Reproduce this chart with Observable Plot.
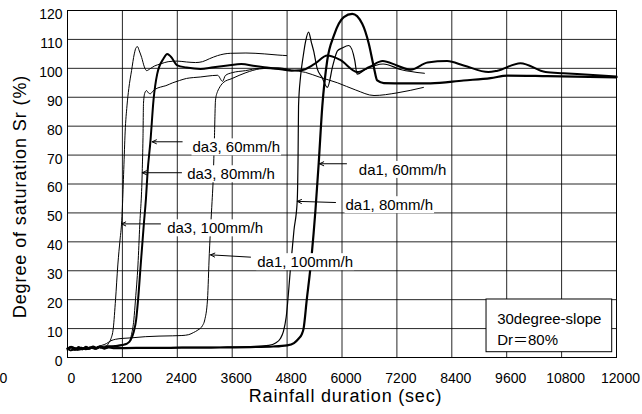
<!DOCTYPE html>
<html>
<head>
<meta charset="utf-8">
<script src="https://cdn.jsdelivr.net/npm/d3@7"></script>
<script src="https://cdn.jsdelivr.net/npm/@observablehq/plot@0.6"></script>
<style>
  html, body { margin: 0; padding: 0; background: #fff; }
  #chart svg { display: block; }
</style>
</head>
<body>
<div id="chart"></div>
<script>
// Degree of saturation Sr (%) against rainfall duration (s), six tests
const xTicks = [0, 1200, 2400, 3600, 4800, 6000, 7200, 8400, 9600, 10800, 12000];
const yTicks = [0, 10, 20, 30, 40, 50, 60, 70, 80, 90, 100, 110, 120];

// [time (s), Sr (%)]
const da3_100 = [[0,2.6],[60,3.4],[120,2.4],[180,3.3],[240,2.7],[300,3.5],[360,2.9],[420,3.6],[480,3.0],[540,3.7],[600,3.1],[660,3.8],[720,3.3],[780,3.9],[850,4.0],[900,5.0],[950,6.5],[1000,10],[1050,20],[1100,32],[1150,41],[1180,46],[1200,52],[1230,65],[1260,78],[1300,87],[1340,93],[1400,99.2],[1460,105],[1500,107.2],[1530,107.5],[1570,106],[1620,103.8],[1680,100.5],[1730,99.2],[1800,99.8],[1900,100.8],[2030,101.5],[2200,102.3],[2400,102.5],[2600,102.2],[2800,102],[2950,102.3],[3100,103.3],[3280,104.4],[3560,105.2],[3900,105.3],[4300,105],[4600,104.6],[4790,104.4]];
const da3_80 = [[0,3.4],[70,2.5],[140,3.6],[210,2.6],[280,3.5],[350,2.8],[420,3.7],[490,3.0],[560,3.8],[630,3.2],[700,3.9],[780,3.4],[860,4.0],[950,3.8],[1050,4.1],[1200,4.4],[1320,5],[1400,8],[1450,13],[1486,20],[1540,32],[1580,46],[1633,64],[1650,76],[1661,88],[1690,91.5],[1727,92.3],[1770,91.5],[1810,91.2],[1860,92],[1920,92.8],[2030,93.5],[2150,94],[2300,95],[2450,95.8],[2600,96.5],[2750,96.8],[2900,97],[3050,97.3],[3280,97.6],[3390,95.5],[3450,97.5],[3600,98.5],[3890,99.2],[4200,100],[4500,99.8],[4790,99.6]];
const da3_60 = [[0,3.0],[80,3.7],[160,2.6],[240,3.6],[320,2.8],[400,3.7],[480,3.0],[560,3.8],[640,3.2],[720,3.8],[800,3.5],[900,3.9],[1000,3.9],[1200,4.3],[1300,4.8],[1380,6],[1450,9],[1500,13],[1543,20],[1600,32],[1668,46],[1715,55],[1750,64],[1814,75],[1880,89],[1960,98],[2100,103.4],[2180,105],[2260,104],[2400,101],[2600,100.3],[2907,99.8],[3190,100.4],[3500,101],[3800,101.5],[4100,100.8],[4400,100.2],[4700,99.6],[4900,99.2],[5100,99.3],[5400,101.5],[5680,104.4],[5950,103],[6340,98.7],[6600,100.5],[6890,102.5],[7200,101],[7500,99.5],[7870,102],[8300,102.5],[8660,101],[9200,98.7],[9400,99.2],[9900,101.8],[10450,98.7],[10840,98.3],[11400,97.8],[12000,97.2]];
const da1_100 = [[0,2.8],[75,2.3],[150,3.4],[225,2.5],[300,3.0],[375,3.5],[450,2.9],[525,3.8],[600,3.5],[675,3.9],[750,4.2],[850,4.8],[950,5.8],[1050,6.3],[1200,6.6],[1400,6.8],[1700,7.2],[2000,7.4],[2300,7.5],[2500,7.6],[2650,7.9],[2750,8.6],[2850,9.5],[2950,11],[3000,13],[3060,20],[3100,36],[3160,54],[3180,60],[3210,75],[3235,89],[3280,92],[3310,93],[3400,95],[3600,96.5],[3900,98.5],[4200,99.8],[4600,100.2],[4900,99.4],[5200,98.6],[5500,97],[5900,95],[6300,92.5],[6700,90.6],[7200,91.5],[7780,93.4]];
const da1_80 = [[0,3.2],[90,2.4],[180,3.3],[270,2.6],[360,3.4],[450,2.8],[540,3.5],[630,3.0],[720,3.6],[810,3.1],[900,3.6],[1000,3.3],[1500,3.4],[2000,3.4],[2500,3.5],[3000,3.5],[3500,3.6],[4000,3.8],[4400,4.2],[4550,5.0],[4650,6.5],[4720,9],[4780,14],[4875,31],[4950,44],[5021,54],[5040,70],[5050,87],[5093,97],[5150,104],[5200,109],[5270,112.5],[5330,109],[5380,106],[5460,99.8],[5560,97],[5680,93.4],[5800,101],[5900,106],[6000,107],[6150,107.9],[6280,102.7],[6330,98],[6500,99.5],[6900,101.5],[7300,99.5],[7800,98.3]];
const da1_60 = [[0,3.0],[100,3.6],[200,2.7],[300,3.3],[400,2.9],[500,3.5],[600,3.0],[700,3.6],[800,3.1],[900,3.5],[1000,3.2],[1500,3.3],[2000,3.3],[2500,3.4],[3000,3.4],[3500,3.5],[4000,3.6],[4500,3.8],[4800,4.2],[4950,5.0],[5050,6.5],[5120,8],[5160,10],[5230,20],[5310,31],[5420,51],[5490,67],[5570,87],[5677,102.7],[5822,111.3],[6040,117.7],[6224,118.8],[6442,115.4],[6586,108.5],[6696,100.4],[6770,95.8],[6915,94.9],[7400,94.8],[7935,94.8],[8657,95.8],[9247,96.6],[9619,97.5],[10500,97.3],[12000,96.9]];

const curves = [
  {data: da3_100, width: 1},
  {data: da3_80, width: 1},
  {data: da3_60, width: 2},
  {data: da1_100, width: 1},
  {data: da1_80, width: 1.2},
  {data: da1_60, width: 2.2}
];

// callout labels and their arrows, in data units
const callouts = [
  {text: "da3, 60mm/h",  t: 2732, s: 72.6, tipT: 1851, tipS: 74.6, tailT: 2507, tailS: 74.6},
  {text: "da3, 80mm/h",  t: 2616, s: 63.3, tipT: 1633, tipS: 63.9, tailT: 2492, tailS: 63.9},
  {text: "da3, 100mm/h", t: 2179, s: 44.6, tipT: 1180, tipS: 46.2, tailT: 2033, tailS: 46.2},
  {text: "da1, 100mm/h", t: 4147, s: 32.9, tipT: 3126, tipS: 35.5, tailT: 4000, tailS: 34.7},
  {text: "da1, 80mm/h",  t: 6077, s: 52.6, tipT: 5021, tipS: 54.0, tailT: 5858, tailS: 53.6},
  {text: "da1, 60mm/h",  t: 6367, s: 64.8, tipT: 5508, tipS: 67.0, tailT: 6098, tailS: 67.0}
];

const legendBox = [{t1: 9159, t2: 11906, s1: 1.83, s2: 20.06}];
const legendLines = [
  {text: "30degree-slope", t: 9392, s: 13.1},
  {text: "Dr＝80%", t: 9392, s: 5.9}
];
const strayLabel = [{text: "0", t: -1400, s: -7.3}];

const font = "'Liberation Sans', Arial, 'Noto Sans CJK JP', sans-serif";

const plot = Plot.plot({
  width: 642,
  height: 414,
  marginLeft: 67,
  marginRight: 26,
  marginTop: 10,
  marginBottom: 57,
  x: {domain: [0, 12000]},
  y: {domain: [0, 120]},
  style: {fontFamily: font, fontSize: "14px", background: "#fff", overflow: "visible", color: "#000"},
  marks: [
    Plot.ruleX(xTicks, {stroke: "#000", strokeWidth: 1, strokeOpacity: 0.85}),
    Plot.ruleY(yTicks, {stroke: "#000", strokeWidth: 1, strokeOpacity: 0.85}),
    ...curves.map(c => Plot.line(c.data, {
      x: d => d[0], y: d => d[1], stroke: "#000", strokeWidth: c.width, curve: "monotone-x"
    })),
    Plot.text(callouts, {x: "t", y: "s", text: "text", textAnchor: "start", fontSize: 15, fill: "#000"}),
    Plot.arrow(callouts, {x1: "tailT", y1: "tailS", x2: "tipT", y2: "tipS", stroke: "#000", strokeWidth: 1, headLength: 7, headAngle: 50}),
    Plot.frame({stroke: "#000", strokeWidth: 1}),
    Plot.rect(legendBox, {x1: "t1", x2: "t2", y1: "s1", y2: "s2", fill: "#fff", stroke: "#000", strokeWidth: 1}),
    Plot.text(legendLines, {x: "t", y: "s", text: "text", textAnchor: "start", fontSize: 15, fill: "#000"}),
    Plot.text(strayLabel, {x: "t", y: "s", text: "text", fontSize: 14, fill: "#000", clip: false}),
    Plot.axisX(xTicks, {tickSize: 0, tickPadding: 16, dx: 4, fontSize: 14, label: null, tickFormat: d => String(d)}),
    Plot.axisY(yTicks, {tickSize: 0, tickPadding: 5, dy: 4, fontSize: 14, label: null, tickFormat: d => String(d)}),
    Plot.text(["Rainfall duration (sec)"], {frameAnchor: "bottom", textAnchor: "middle", dx: 3.5, dy: 44, fontSize: 18, fill: "#000"}),
    Plot.text(["Degree of saturation Sr (%)"], {frameAnchor: "left", textAnchor: "middle", dx: -47, dy: 12.5, rotate: -90, fontSize: 18, fill: "#000"})
  ]
});

document.getElementById("chart").appendChild(plot);

// white boxes behind the callout labels so grid and curves stop at the text
const calloutGroup = plot.querySelectorAll('g[aria-label="text"]')[0];
if (calloutGroup) {
  const boxes = document.createElementNS("http://www.w3.org/2000/svg", "g");
  calloutGroup.querySelectorAll("text").forEach(t => {
    const b = t.getBBox();
    const r = document.createElementNS("http://www.w3.org/2000/svg", "rect");
    r.setAttribute("x", b.x - 1);
    r.setAttribute("y", b.y);
    r.setAttribute("width", b.width + 2);
    r.setAttribute("height", b.height);
    r.setAttribute("fill", "#fff");
    const tr = t.getAttribute("transform");
    if (tr) r.setAttribute("transform", tr);
    boxes.appendChild(r);
  });
  const gt = calloutGroup.getAttribute("transform");
  if (gt) boxes.setAttribute("transform", gt);
  calloutGroup.parentNode.insertBefore(boxes, calloutGroup);
}
// letter spacing on the two axis titles
plot.querySelectorAll('g[aria-label="text"] text').forEach(t => {
  if (t.textContent.startsWith("Degree")) t.style.letterSpacing = "0.9px";
  if (t.textContent.startsWith("Rainfall")) t.style.letterSpacing = "0.8px";
});
</script>
</body>
</html>
